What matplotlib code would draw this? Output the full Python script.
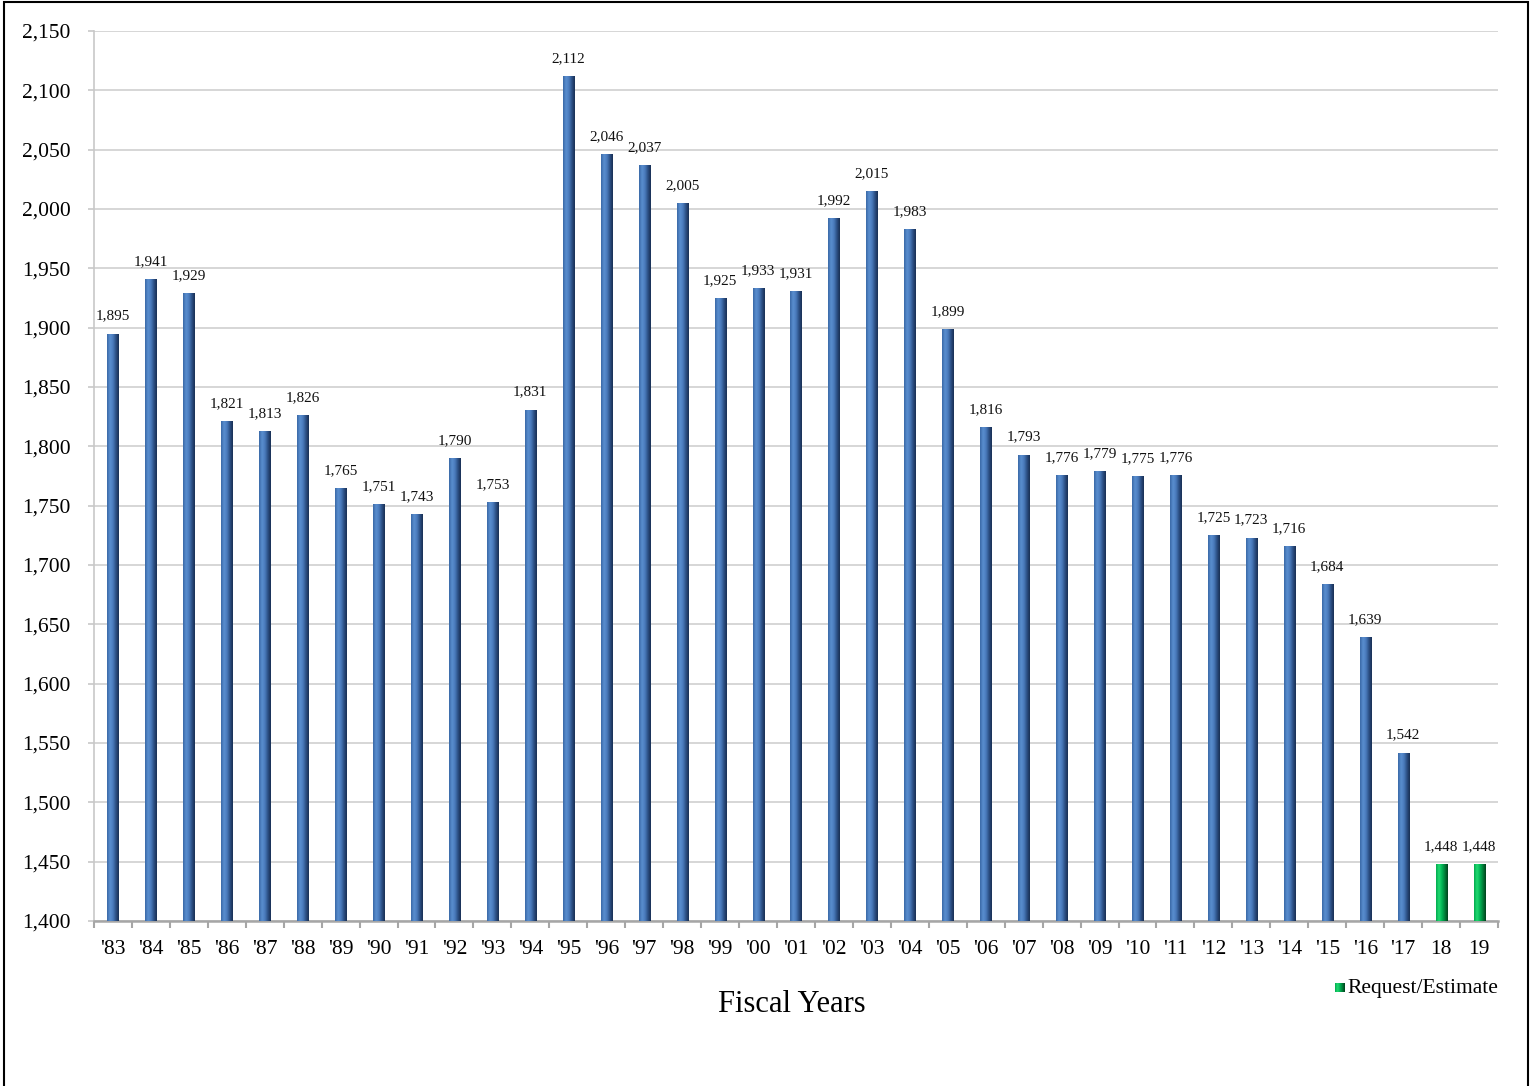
"""Fiscal year bar chart with 3D-style shaded bars."""

import matplotlib
matplotlib.use("Agg")
import matplotlib.pyplot as plt
import numpy as np
from matplotlib.colors import LinearSegmentedColormap
from matplotlib.patches import Rectangle

# Data
years = ["'83", "'84", "'85", "'86", "'87", "'88", "'89", "'90", "'91", "'92",
         "'93", "'94", "'95", "'96", "'97", "'98", "'99", "'00", "'01", "'02",
         "'03", "'04", "'05", "'06", "'07", "'08", "'09", "'10", "'11", "'12",
         "'13", "'14", "'15", "'16", "'17", "18", "19"]
values = [1895, 1941, 1929, 1821, 1813, 1826, 1765, 1751, 1743, 1790,
          1753, 1831, 2112, 2046, 2037, 2005, 1925, 1933, 1931, 1992,
          2015, 1983, 1899, 1816, 1793, 1776, 1779, 1775, 1776, 1725,
          1723, 1716, 1684, 1639, 1542, 1448, 1448]
is_estimate = [False] * 35 + [True, True]

y_min, y_max, y_step = 1400, 2150, 50
legend_label = "Request/Estimate"
x_title = "Fiscal Years"

plt.rcParams["font.family"] = ["Liberation Serif", "DejaVu Serif"]

# Horizontal shading: light left, dark right, like the office "3D" bar fill
blue_cmap = LinearSegmentedColormap.from_list(
    "blue_bar", ["#3867a5", "#5a8fd0", "#4a7bbd", "#2c5085", "#182e52"])
green_cmap = LinearSegmentedColormap.from_list(
    "green_bar", ["#00a84d", "#22dc72", "#00b455", "#007e38", "#00401c"])
shade = np.linspace(0, 1, 64).reshape(1, -1)

fig = plt.figure(figsize=(15.35, 10.86), dpi=100)
ax = fig.add_axes([0.0612, 0.1519, 0.9147, 0.8196])

x = np.arange(len(years))
bar_w = 0.29
bars = ax.bar(x, np.array(values) - y_min, bottom=y_min, width=bar_w,
              color="none", edgecolor="none", zorder=3)

for rect, val, est in zip(bars, values, is_estimate):
    x0, w = rect.get_x(), rect.get_width()
    cmap = green_cmap if est else blue_cmap
    im = ax.imshow(shade, cmap=cmap, aspect="auto", interpolation="bicubic",
                   extent=(x0, x0 + w, y_min, val), zorder=3)
    im.set_clip_path(rect)
    ax.annotate(f"{val:,}", (x0 + w / 2, val), xytext=(0, 8),
                textcoords="offset points", ha="center", va="bottom",
                fontsize=11, color="#111111")

ax.set_xlim(-0.5, len(years) - 0.5)
ax.set_ylim(y_min, y_max)
ax.set_yticks(np.arange(y_min, y_max + 1, y_step))
ax.yaxis.set_major_formatter(matplotlib.ticker.FuncFormatter(lambda v, p: f"{int(v):,}"))
ax.set_xticks(x)
ax.set_xticklabels(years)
ax.set_xticks(np.arange(-0.5, len(years), 1), minor=True)

ax.grid(axis="y", color="#d0d0d0", linewidth=1.2, zorder=0)
ax.set_axisbelow(True)
for side in ("top", "right"):
    ax.spines[side].set_visible(False)
ax.spines["left"].set_color("#c8c8c8")
ax.spines["left"].set_linewidth(1.2)
ax.spines["bottom"].set_color("#a6a6a6")
ax.spines["bottom"].set_linewidth(1.8)

ax.tick_params(axis="y", length=4, width=1.2, color="#c8c8c8", labelsize=15.5, pad=13)
ax.tick_params(axis="x", which="major", length=0, labelsize=15.5, pad=14)
ax.tick_params(axis="x", which="minor", length=5, width=1.5, color="#a6a6a6")

ax.set_xlabel(x_title, fontsize=22, va="top")
ax.xaxis.set_label_coords(0.497, -0.078)

# legend entry for the estimate bars, drawn as a small shaded square
leg_ax = fig.add_axes([0.8695, 0.0865, 0.0065, 0.0085])
leg_ax.imshow(shade, cmap=green_cmap, aspect="auto", interpolation="bicubic")
leg_ax.set_axis_off()
fig.text(0.8775, 0.0895, legend_label, fontsize=15.5, ha="left", va="center")

# chart frame
fig.add_artist(Rectangle((0.0028, -0.05), 0.9925, 1.0485, transform=fig.transFigure,
                         fill=False, edgecolor="black", linewidth=1.5))

fig.savefig("out.png", dpi=100)
